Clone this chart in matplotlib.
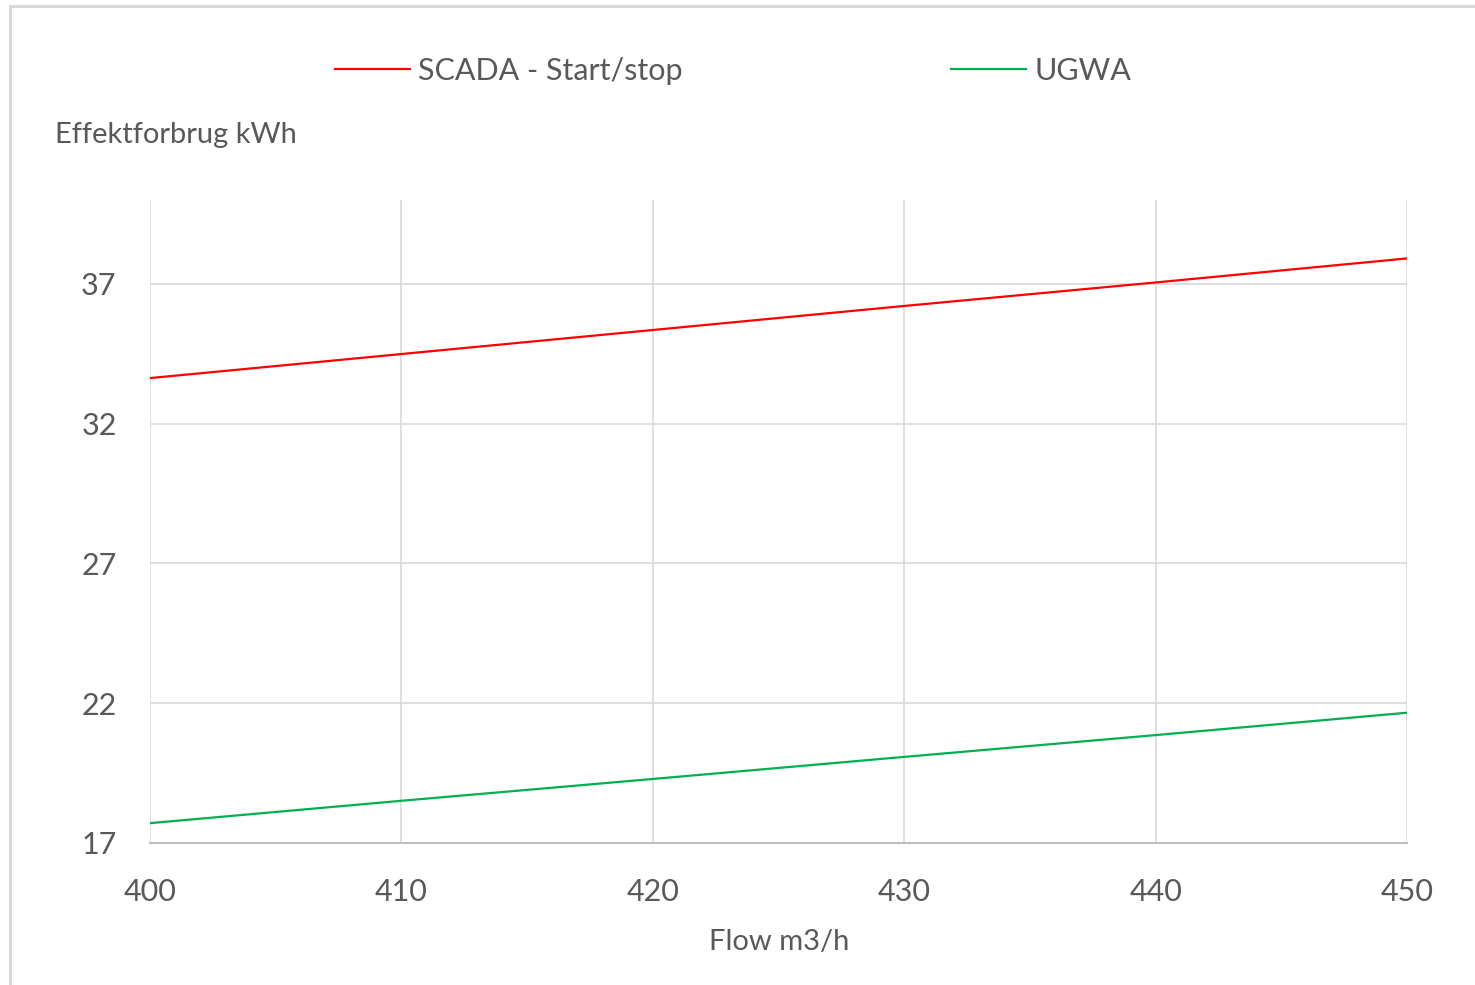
import matplotlib
matplotlib.use("Agg")
import matplotlib.pyplot as plt
from matplotlib.patches import Rectangle

flow = [400, 410, 420, 430, 440, 450]
scada = [33.63, 34.49, 35.35, 36.21, 37.05, 37.91]
ugwa = [17.71, 18.51, 19.29, 20.08, 20.86, 21.66]
y_ticks = [17, 22, 27, 32, 37]

plt.rcParams["font.family"] = ["Lato", "DejaVu Sans"]
TXT = "#595959"
GRID = "#d9d9d9"

fig = plt.figure(figsize=(14.75, 9.85), dpi=100)
fig.patches.append(Rectangle((10 / 1475, -0.1), 1.2, (985 - 6) / 985 + 0.1,
                             transform=fig.transFigure, fill=False,
                             edgecolor=GRID, linewidth=2.2))

ax = fig.add_axes([150 / 1475, 142 / 985, 1257 / 1475, 643 / 985])
ax.plot(flow, scada, color="#ff0000", linewidth=1.6, label="SCADA - Start/stop")
ax.plot(flow, ugwa, color="#00b050", linewidth=1.6, label="UGWA")

ax.set_xlim(400, 450)
ax.set_ylim(17, 40)
ax.set_xticks(flow)
ax.set_yticks(y_ticks)
ax.grid(True, color=GRID, linewidth=1.2)
ax.set_axisbelow(True)
for s in ["top", "right", "left"]:
    ax.spines[s].set_visible(False)
ax.spines["bottom"].set_color("#bfbfbf")
ax.spines["bottom"].set_linewidth(1.5)
ax.tick_params(length=0, labelsize=22, labelcolor=TXT)
ax.tick_params(axis="y", pad=24)
ax.tick_params(axis="x", pad=25)
for lbl in ax.get_xticklabels() + ax.get_yticklabels():
    lbl.set_clip_on(False)

fig.text(55 / 1475, 1 - 135 / 985, "Effektforbrug kWh", fontsize=21, color=TXT,
         ha="left", va="center")
fig.text(779 / 1475, 1 - 942 / 985, "Flow m3/h", fontsize=21, color=TXT,
         ha="center", va="center")

leg = fig.legend(loc="center", bbox_to_anchor=(733 / 1475, 1 - 71 / 985), ncol=2,
                 frameon=False, fontsize=22, handlelength=2.45, handletextpad=0.26,
                 columnspacing=8.8, labelcolor=TXT)

fig.savefig("out.png", dpi=100)
